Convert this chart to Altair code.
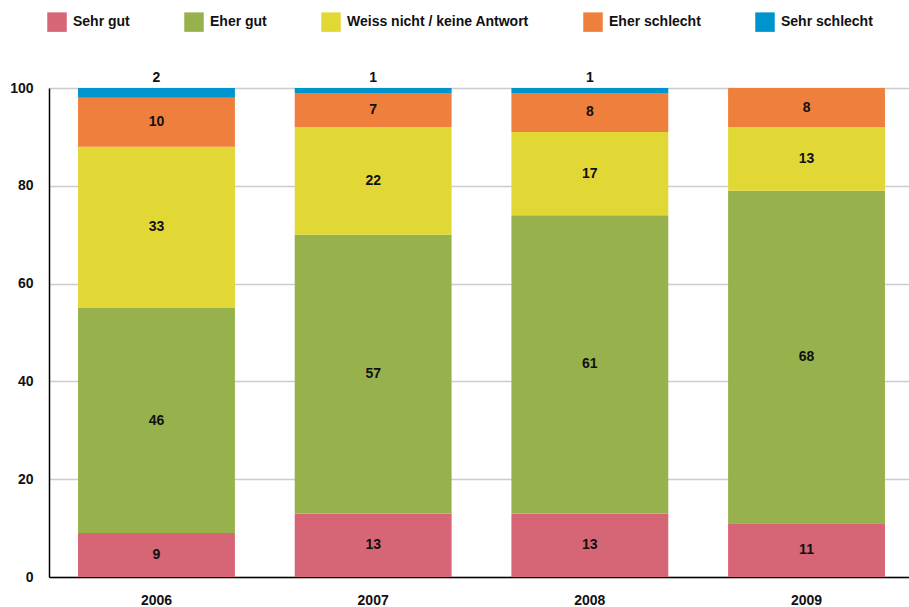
import altair as alt
import pandas as pd

years = ["2006", "2007", "2008", "2009"]
categories = ["Sehr gut", "Eher gut", "Weiss nicht / keine Antwort", "Eher schlecht", "Sehr schlecht"]
colors = ["#D66576", "#97B24D", "#E2D835", "#EF7F3C", "#0094CF"]

sehr_gut = [9, 13, 13, 11]
eher_gut = [46, 57, 61, 68]
weiss_nicht = [33, 22, 17, 13]
eher_schlecht = [10, 7, 8, 8]
sehr_schlecht = [2, 1, 1, 0]

series = [sehr_gut, eher_gut, weiss_nicht, eher_schlecht, sehr_schlecht]
rows = []
for ci, (cat, vals) in enumerate(zip(categories, series)):
    for yr, v in zip(years, vals):
        rows.append({"year": yr, "cat": cat, "order": ci, "value": v})
df = pd.DataFrame(rows)

FONT = "Liberation Sans"

base = alt.Chart(df).transform_stack(
    stack="value", groupby=["year"], sort=[{"field": "order", "order": "ascending"}], as_=["y0", "y1"]
).transform_calculate(mid="(datum.y0 + datum.y1) / 2")

x_enc = alt.X(
    "year:N",
    title=None,
    scale=alt.Scale(paddingInner=0.276, paddingOuter=0.134, range=[0, 865]),
    axis=alt.Axis(
        labelAngle=0, ticks=False, domainColor="#000000", domainWidth=1.5,
        labelFont=FONT, labelFontWeight="bold", labelFontSize=14, labelColor="#111111",
        labelPadding=16, grid=False,
    ),
)

bars = base.mark_bar().encode(
    x=x_enc,
    y=alt.Y(
        "y0:Q",
        title=None,
        scale=alt.Scale(domain=[0, 100], nice=False),
        axis=alt.Axis(
            values=[0, 20, 40, 60, 80, 100], ticks=False, domainColor="#000000", domainWidth=1.5,
            gridColor="#cccccc", gridWidth=1.5,
            labelFont=FONT, labelFontWeight="bold", labelFontSize=14, labelColor="#111111",
            labelPadding=16,
        ),
    ),
    y2="y1:Q",
    color=alt.Color(
        "cat:N",
        scale=alt.Scale(domain=categories, range=colors),
        legend=alt.Legend(
            title=None, orient="none", direction="horizontal", legendX=-2, legendY=-76,
            symbolType="square", symbolSize=380, symbolStrokeWidth=0, symbolOpacity=1,
            labelFont=FONT, labelFontWeight="bold", labelFontSize=14, labelColor="#111111",
            labelOffset=6, columnPadding=54, labelLimit=0,
        ),
    ),
    order=alt.Order("order:Q"),
)

inner_labels = base.transform_filter(
    "datum.value > 0 && datum.order < 4"
).mark_text(font=FONT, fontWeight="bold", fontSize=14, color="#111111", baseline="middle").encode(
    x="year:N", y="mid:Q", text="value:Q"
)

top_labels = base.transform_filter(
    "datum.value > 0 && datum.order == 4"
).mark_text(font=FONT, fontWeight="bold", fontSize=14, color="#111111", baseline="bottom", dy=-3).encode(
    x="year:N", y="y1:Q", text="value:Q"
)

chart = alt.layer(bars, inner_labels, top_labels).properties(
    width=860, height=489,
    autosize=alt.AutoSizeParams(type="none"),
    padding={"left": 49, "top": 88, "right": 0, "bottom": 30},
).configure_view(stroke=None).configure(background="white")

chart.save("out.html", embed_options={"renderer": "svg", "actions": False})
